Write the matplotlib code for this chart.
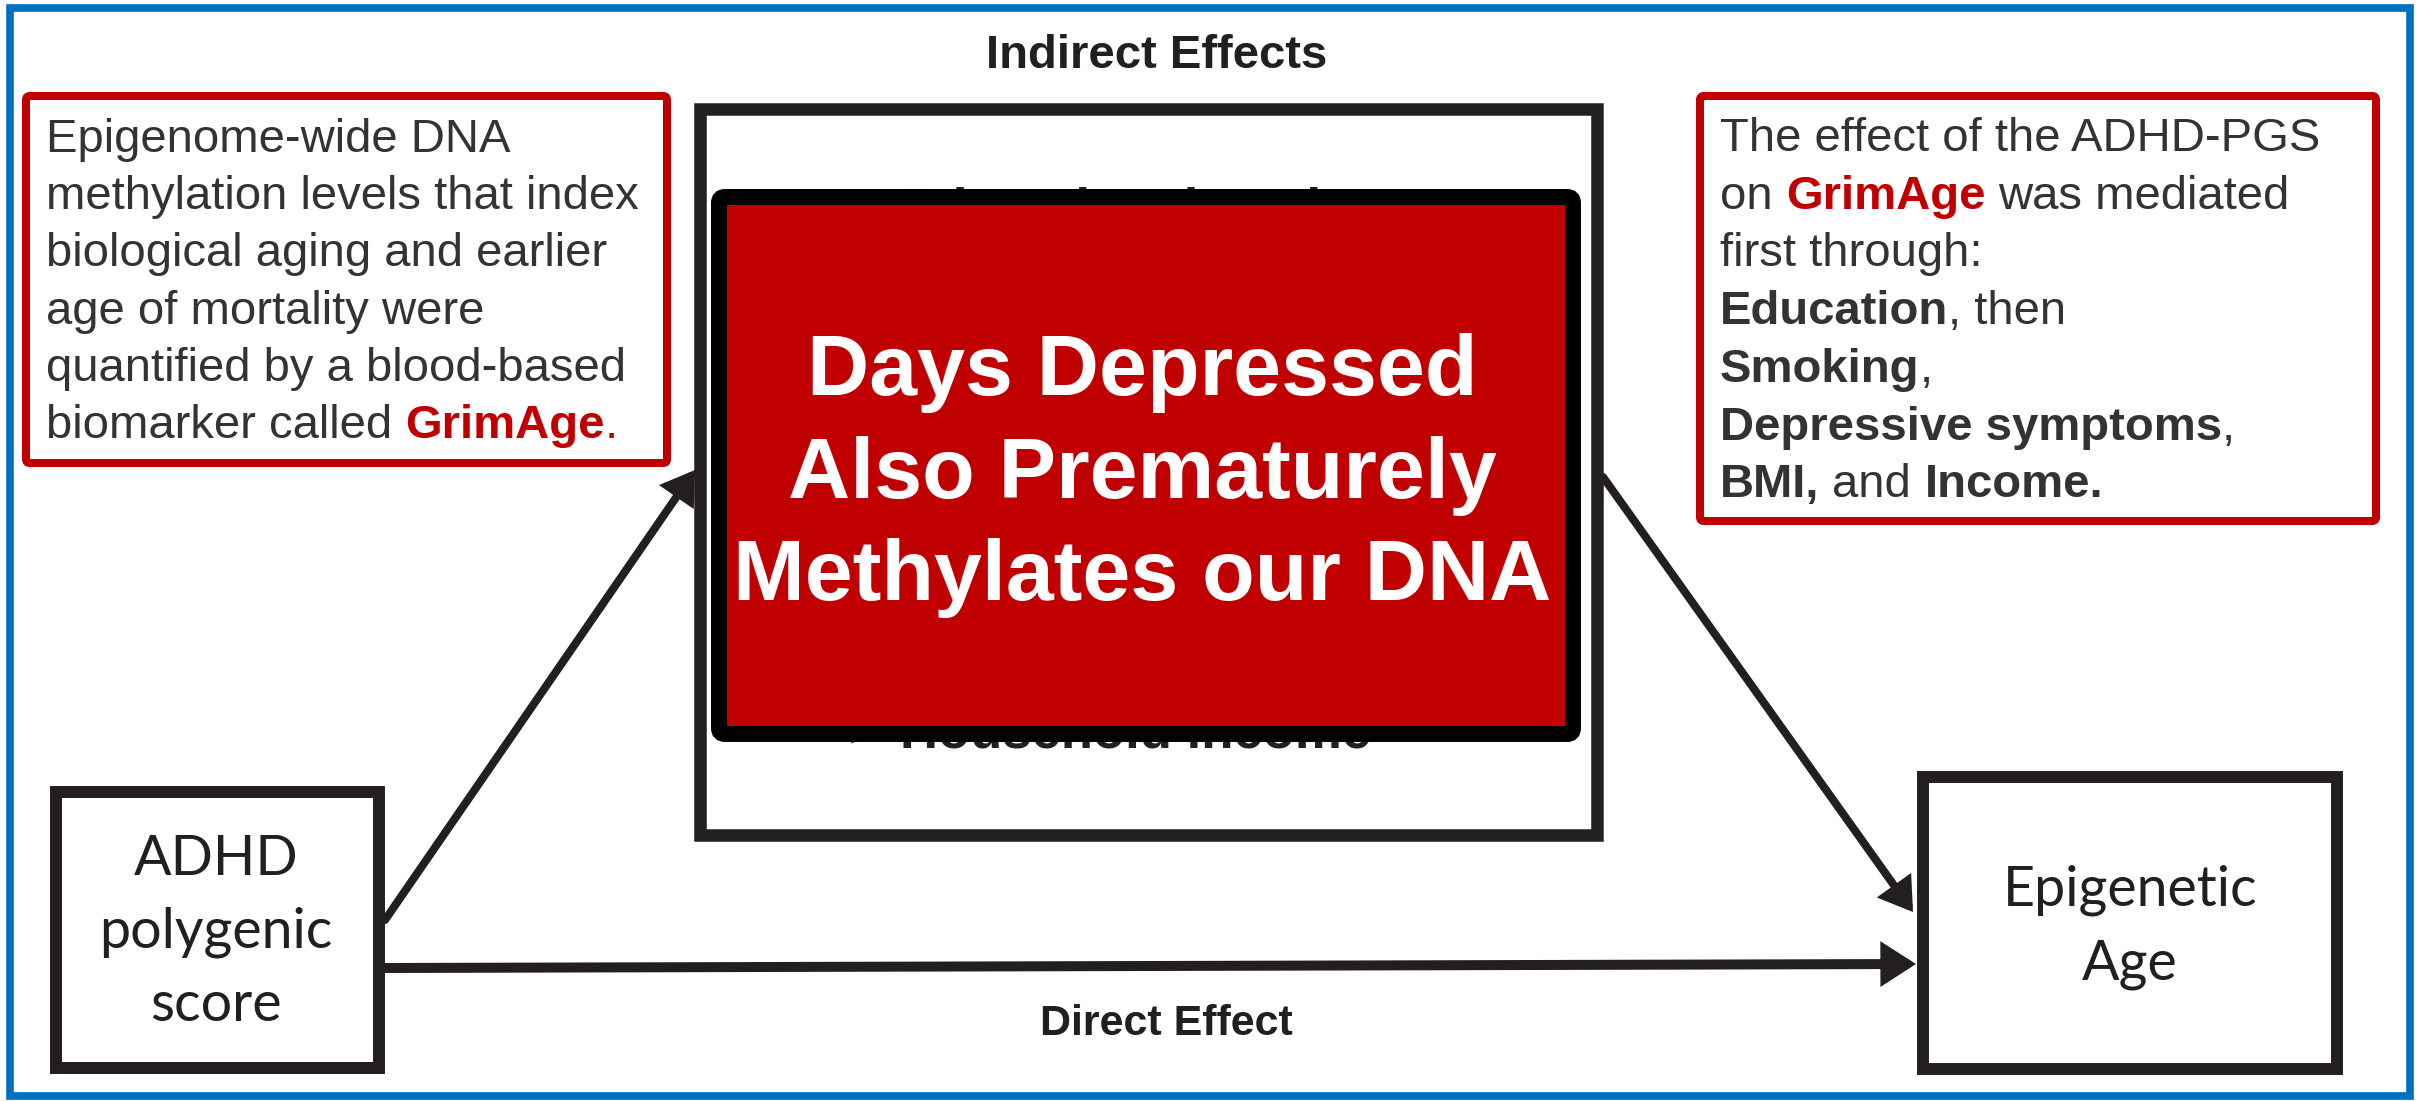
import matplotlib

matplotlib.use("Agg")
import matplotlib.pyplot as plt
from matplotlib.font_manager import FontProperties
from matplotlib.patches import FancyArrowPatch, FancyBboxPatch, Rectangle

W, H = 2420, 1101
RED = "#C00000"
BLUE = "#0070C0"
INK = "#231F20"
GREY = "#333333"

# --- content ---------------------------------------------------------
SOURCE_LABEL = ["ADHD", "polygenic", "score"]
OUTCOME_LABEL = ["Epigenetic", "Age"]
INDIRECT_TITLE = "Indirect Effects"
DIRECT_TITLE = "Direct Effect"
# first and last mediator lines; only their edges show past the banner
MEDIATORS = ["Educational attainment", "Household income"]
MEDIATOR_ROWS = [0, 4]
HEADLINE = ["Days Depressed", "Also Prematurely", "Methylates our DNA"]

# (text, style) runs; n = regular grey, b = bold grey, r = bold red, rn = red
LEFT_NOTE = [
    [("Epigenome-wide DNA", "n")],
    [("methylation levels that index", "n")],
    [("biological aging and earlier", "n")],
    [("age of mortality were", "n")],
    [("quantified by a blood-based", "n")],
    [("biomarker called ", "n"), ("GrimAge", "r"), (".", "rn")],
]
RIGHT_NOTE = [
    [("The effect of the ADHD-PGS", "n")],
    [("on ", "n"), ("GrimAge", "r"), (" was mediated", "n")],
    [("first through:", "n")],
    [("Education", "b"), (", then", "n")],
    [("Smoking", "b"), (",", "n")],
    [("Depressive symptoms", "b"), (",", "n")],
    [("BMI,", "b"), (" and ", "n"), ("Income.", "b")],
]
STYLES = {"n": ("normal", GREY), "b": ("bold", GREY),
          "r": ("bold", RED), "rn": ("normal", RED)}

fig = plt.figure(figsize=(W / 100, H / 100), dpi=100)
ax = fig.add_axes([0, 0, 1, 1])
ax.set_xlim(0, W)
ax.set_ylim(H, 0)
ax.axis("off")
renderer = fig.canvas.get_renderer()


def advance(s, fp):
    # pipe padding keeps leading/trailing spaces in the measured width
    w1 = renderer.get_text_width_height_descent("|" + s + "|", fp, ismath=False)[0]
    w0 = renderer.get_text_width_height_descent("||", fp, ismath=False)[0]
    return w1 - w0


def rich_lines(lines, x0, y0, step, size, family="Liberation Sans"):
    for i, runs in enumerate(lines):
        x, y = x0, y0 + i * step
        for txt, key in runs:
            weight, color = STYLES[key]
            fp = FontProperties(family=family, size=size, weight=weight)
            body = txt.lstrip(" ")
            lead = advance(txt[:len(txt) - len(body)], fp) if body != txt else 0
            ax.text(x + lead, y, body, fontproperties=fp, color=color,
                    ha="left", va="baseline", zorder=6)
            x += advance(txt, fp)


def box(x0, y0, x1, y1, lw, color=INK, z=3):
    ax.add_patch(Rectangle((x0, y0), x1 - x0, y1 - y0, fill=True, fc="white",
                           ec=color, lw=lw, joinstyle="miter", zorder=z))


def arrow(a, b, lw):
    ax.add_patch(FancyArrowPatch(a, b, arrowstyle="-|>,head_length=0.7,head_width=0.45",
                                 mutation_scale=22, lw=lw, color=INK,
                                 shrinkA=0, shrinkB=0, joinstyle="miter", zorder=2))


# outer blue frame
ax.add_patch(Rectangle((9.5, 8), 2400, 1088, fill=False, ec=BLUE, lw=5.5, zorder=1))

# diagram boxes
box(699.5, 108.5, 1597, 834.5, 9)
box(56, 792, 379, 1068, 8.6)
box(1923, 777, 2337, 1069, 8.6)

# arrows
arrow((385, 920), (695, 470), 5.8)
arrow((1603, 477), (1913, 912), 5.8)
arrow((385, 968), (1916, 964), 7.2)

# path titles
ax.text(1157, 68, INDIRECT_TITLE, family="Liberation Sans", weight="bold",
        size=34, color=INK, ha="center", va="baseline")
ax.text(1166, 1035, DIRECT_TITLE, family="Liberation Sans", weight="bold",
        size=31, color=INK, ha="center", va="baseline")

# node labels
for i, s in enumerate(SOURCE_LABEL):
    ax.text(216, 875 + i * 73, s, family="Lato", size=40, color=INK,
            ha="center", va="baseline", zorder=4)
for i, s in enumerate(OUTCOME_LABEL):
    ax.text(2130, 905 + i * 74, s, family="Lato", size=40, color=INK,
            ha="center", va="baseline", zorder=4)

# mediator list inside the big box (mostly covered by the banner)
for row, s in zip(MEDIATOR_ROWS, MEDIATORS):
    y = 225 + row * 130.5
    ax.text(845, y, "\u27a2", family="DejaVu Sans", size=34, color=INK,
            ha="left", va="baseline", zorder=4)
    ax.text(900, y, s, family="Liberation Sans", weight="bold", size=38,
            color=INK, ha="left", va="baseline", zorder=4)

# headline banner
ax.add_patch(FancyBboxPatch((719, 197), 854, 537,
                            boxstyle="round,pad=0,rounding_size=6",
                            fc=RED, ec="black", lw=11.5, zorder=5))
for i, s in enumerate(HEADLINE):
    ax.text(1142, 395 + i * 102.5, s, family="Liberation Sans", weight="bold",
            size=62, color="white", ha="center", va="baseline", zorder=6)

# callout boxes
for x0, y0, x1, y1 in [(26, 96, 667, 463), (1700, 96, 2376, 521)]:
    ax.add_patch(FancyBboxPatch((x0, y0), x1 - x0, y1 - y0,
                                boxstyle="round,pad=0,rounding_size=4",
                                fc="white", ec=RED, lw=5.8, zorder=5))
rich_lines(LEFT_NOTE, 46, 152, 57.2, 34)
rich_lines(RIGHT_NOTE, 1720, 151, 57.7, 34)

fig.savefig("out.png", dpi=100)
